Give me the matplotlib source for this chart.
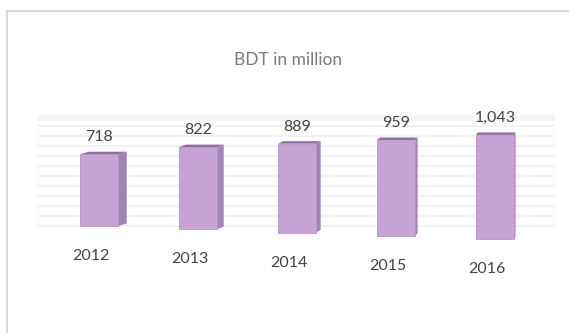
import matplotlib
matplotlib.use("Agg")
import matplotlib.pyplot as plt
from matplotlib.patches import Polygon
from matplotlib.lines import Line2D

plt.rcParams['font.family'] = ['Lato', 'DejaVu Sans']

years = ['2012', '2013', '2014', '2015', '2016']
values = [718, 822, 889, 959, 1043]
value_labels = ['718', '822', '889', '959', '1,043']
title = "BDT in million"

front = '#c8a3d6'
side = '#a385b4'
top = '#8f6f9f'

fig = plt.figure(figsize=(5.69, 3.33), dpi=100)
ax = fig.add_axes([0, 0, 1, 1])
ax.set_xlim(-1.0, 4.75)
ax.set_ylim(-1070, 2260)
ax.axis('off')

# faint back wall gridlines
for g in range(0, 1101, 100):
    ax.plot([-0.62, 4.6], [g, g], color='#f0f0f0', lw=1.2, zorder=0)
ax.fill_between([-0.62, 4.6], 1060, 1110, color='#f8f5f6', zorder=0)

tilt = 33        # baseline drops to the right (perspective)
w = 0.38
rise = 25
for i, v in enumerate(values):
    base = -tilt * i
    d = max(9 - 2 * i, 2) / 99.0
    ax.bar(i, v, width=w, bottom=base, color=front, edgecolor='#b596c4',
           lw=0.6, zorder=3)
    x1 = i + w / 2
    x0 = i - w / 2
    ax.add_patch(Polygon([(x1, base), (x1 + d, base + rise),
                          (x1 + d, base + v + rise), (x1, base + v)],
                         closed=True, fc=side, ec='none', zorder=2))
    ax.add_patch(Polygon([(x0, base + v), (x1, base + v),
                          (x1 + d, base + v + rise), (x0 + d, base + v + rise)],
                         closed=True, fc=top, ec='none', zorder=4))
    ax.annotate(value_labels[i], (i, base + v), xytext=(0, 17),
                textcoords='offset pixels', ha='center', va='center',
                fontsize=11.5, color='#444444')
    ax.annotate(years[i], (i, base), xytext=(-8, -30),
                textcoords='offset pixels', ha='center', va='center',
                fontsize=11.5, color='#444444')

fig.text(288 / 569, 1 - 60 / 333, title, ha='center', va='center',
         fontsize=12.5, color='#7a7a7a')

# chart border (left and top edges visible)
fig.add_artist(Line2D([7 / 569, 7 / 569], [0, 1 - 11 / 333],
                      transform=fig.transFigure, color='#d9d9d9', lw=1.5))
fig.add_artist(Line2D([7 / 569, 1], [1 - 11 / 333, 1 - 11 / 333],
                      transform=fig.transFigure, color='#d9d9d9', lw=1.5))

fig.savefig('out.png', dpi=100)
